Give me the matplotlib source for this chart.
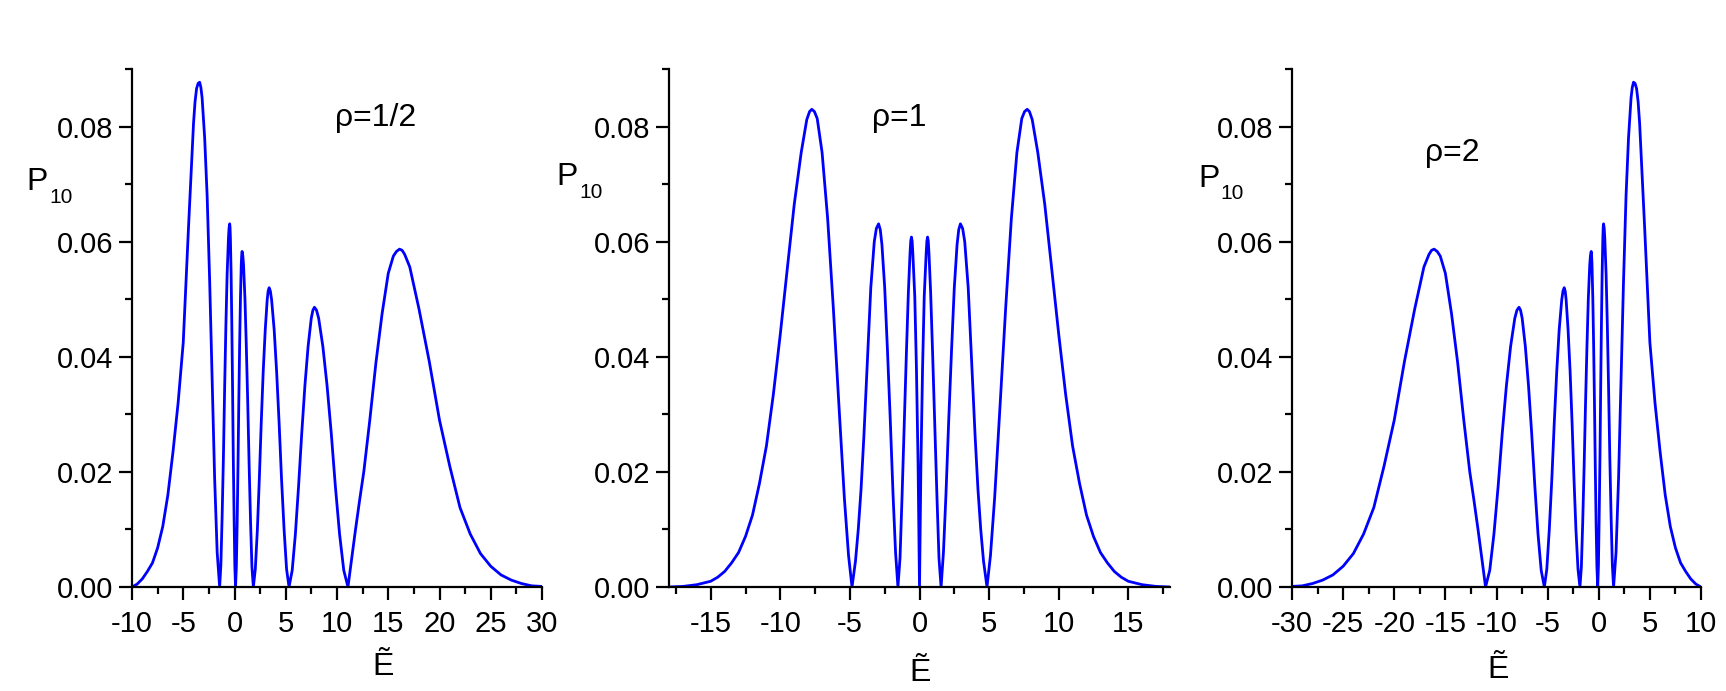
import matplotlib
matplotlib.use('Agg')
import matplotlib.pyplot as plt
from matplotlib.ticker import MultipleLocator, FormatStrFormatter

plt.rcParams['font.family'] = ['Liberation Sans', 'DejaVu Sans']
plt.rcParams['axes.unicode_minus'] = False

# rho = 1/2  (one line per lobe)
half_x = [-10, -9.5, -9, -8.5, -8, -7.5, -7, -6.5, -6, -5.5, -5, -4.5, -4, -3.85, -3.7, -3.55, -3.4,
          -3.28, -3.16, -2.91, -2.67, -2.42, -2.18, -1.94, -1.69, -1.45,
          -1.33, -1.21, -1.08, -0.96, -0.84, -0.72, -0.59, -0.53, -0.47, -0.435, -0.40, -0.33, -0.26, -0.19, -0.12, -0.04, 0.03, 0.1,
          0.18, 0.26, 0.34, 0.42, 0.5, 0.58, 0.66, 0.70, 0.74, 0.81, 0.88, 1.02, 1.15, 1.29, 1.43, 1.57, 1.70, 1.84,
          2.03, 2.23, 2.42, 2.61, 2.80, 3.00, 3.19, 3.28, 3.38, 3.5, 3.62, 3.87, 4.11, 4.35, 4.59, 4.84, 5.08, 5.32,
          5.63, 5.94, 6.25, 6.56, 6.87, 7.18, 7.49, 7.65, 7.8, 8.0, 8.21, 8.62, 9.03, 9.44, 9.84, 10.25, 10.66, 11.07,
          11.4, 11.8, 12.2, 12.62, 13.2, 13.8, 14.4, 15.0, 15.5, 15.8, 16.1, 16.35, 16.6, 17.1, 18.0, 19.0, 20.0, 21.0,
          22.0, 23.0, 24.0, 25.0, 26.0, 27.0, 28.0, 29.0, 30.0]
half_y = [0.0, 0.0005, 0.0014, 0.0027, 0.0042, 0.0068, 0.0105, 0.016, 0.0235, 0.032, 0.0425, 0.062, 0.0805, 0.0843, 0.0866, 0.0875, 0.0877,
          0.0868, 0.085, 0.078, 0.068, 0.053, 0.036, 0.019, 0.006, 0.0,
          0.0038, 0.012, 0.0227, 0.0347, 0.0454, 0.0543, 0.0606, 0.0624, 0.0631, 0.0625, 0.0606, 0.0543, 0.0454, 0.0347, 0.0227, 0.012, 0.0038, 0.0,
          0.0035, 0.0111, 0.021, 0.0321, 0.042, 0.0501, 0.056, 0.0576, 0.0583, 0.0576, 0.056, 0.0501, 0.042, 0.0321, 0.021, 0.0111, 0.0035, 0.0,
          0.0031, 0.0099, 0.0187, 0.0286, 0.0374, 0.0447, 0.0499, 0.0514, 0.052, 0.0514, 0.0499, 0.0447, 0.0374, 0.0286, 0.0187, 0.0099, 0.0031, 0.0,
          0.0029, 0.0092, 0.0175, 0.0267, 0.035, 0.0418, 0.0467, 0.0481, 0.0486, 0.0481, 0.0467, 0.0418, 0.035, 0.0267, 0.0175, 0.0092, 0.0029, 0.0,
          0.0045, 0.0099, 0.015, 0.0201, 0.029, 0.039, 0.0475, 0.0545, 0.0575, 0.0583, 0.0587, 0.0585, 0.0578, 0.0556, 0.0483, 0.0392, 0.029, 0.021,
          0.0138, 0.0092, 0.0058, 0.0036, 0.0021, 0.0012, 0.0006, 0.0002, 0.0001]

# rho = 1
one_x = [-18, -17, -16, -15, -14.5, -14, -13.5, -13, -12.5, -12, -11.5, -11, -10.5, -10, -9.5, -9, -8.5, -8.1, -7.9, -7.74,
         -7.55, -7.35, -7.0, -6.6, -6.2, -5.8, -5.4, -5.1, -4.85,
         -4.6, -4.4, -4.2, -4.0, -3.75, -3.5, -3.25, -3.1, -2.94, -2.82, -2.7, -2.5, -2.3, -2.1, -1.9, -1.72, -1.55,
         -1.4, -1.25, -1.1, -0.95, -0.8, -0.68, -0.63, -0.58, -0.53, -0.48, -0.34, -0.22, -0.1, 0.0,
         0.1, 0.22, 0.34, 0.48, 0.53, 0.58, 0.63, 0.68, 0.8, 0.95, 1.1, 1.25, 1.4, 1.55,
         1.72, 1.9, 2.1, 2.3, 2.5, 2.7, 2.82, 2.94, 3.1, 3.25, 3.5, 3.75, 4.0, 4.2, 4.4, 4.6, 4.85,
         5.1, 5.4, 5.8, 6.2, 6.6, 7.0, 7.35, 7.55, 7.74, 7.9, 8.1, 8.5, 9.0, 9.5, 10.0, 10.5, 11.0, 11.5, 12.0,
         12.5, 13.0, 13.5, 14.0, 14.5, 15.0, 16.0, 17.0, 18.0]
one_y = [0.0, 0.0001, 0.0004, 0.001, 0.0017, 0.0027, 0.0042, 0.006, 0.0088, 0.0125, 0.018, 0.0245, 0.0335, 0.044, 0.0553, 0.0665, 0.0755, 0.0812, 0.0826, 0.083,
         0.0826, 0.0814, 0.0755, 0.064, 0.0488, 0.032, 0.0155, 0.0055, 0.0,
         0.0045, 0.01, 0.017, 0.026, 0.039, 0.052, 0.06, 0.0623, 0.0631, 0.0621, 0.0595, 0.052, 0.041, 0.029, 0.016, 0.006, 0.0,
         0.005, 0.016, 0.028, 0.04, 0.0512, 0.058, 0.0601, 0.0608, 0.0601, 0.058, 0.0505, 0.038, 0.021, 0.0,
         0.021, 0.038, 0.0505, 0.058, 0.0601, 0.0608, 0.0601, 0.058, 0.0512, 0.04, 0.028, 0.016, 0.005, 0.0,
         0.006, 0.016, 0.029, 0.041, 0.052, 0.0595, 0.0621, 0.0631, 0.0623, 0.06, 0.052, 0.039, 0.026, 0.017, 0.01, 0.0045, 0.0,
         0.0055, 0.0155, 0.032, 0.0488, 0.064, 0.0755, 0.0814, 0.0826, 0.083, 0.0826, 0.0812, 0.0755, 0.0665, 0.0553, 0.044, 0.0335, 0.0245, 0.018, 0.0125,
         0.0088, 0.006, 0.0042, 0.0027, 0.0017, 0.001, 0.0004, 0.0001, 0.0]

# rho = 2
two_x = [-30, -29, -28, -27, -26, -25, -24, -23, -22, -21, -20, -19, -18, -17.1, -16.6, -16.35, -16.1, -15.8, -15.5, -15, -14.4,
         -13.8, -13.2, -12.62, -12.2, -11.8, -11.4, -11.07,
         -10.66, -10.25, -9.84, -9.44, -9.03, -8.62, -8.21, -8.0, -7.8, -7.65, -7.49, -7.18, -6.87, -6.56, -6.25, -5.94, -5.63, -5.32,
         -5.08, -4.84, -4.59, -4.35, -4.11, -3.87, -3.62, -3.5, -3.38, -3.28, -3.19, -3.0, -2.8, -2.61, -2.42, -2.23, -2.03, -1.84,
         -1.70, -1.57, -1.43, -1.29, -1.15, -1.02, -0.88, -0.81, -0.74, -0.70, -0.66, -0.58, -0.5, -0.42, -0.34, -0.26, -0.18, -0.1,
         -0.03, 0.04, 0.12, 0.19, 0.26, 0.33, 0.40, 0.435, 0.47, 0.53, 0.59, 0.72, 0.84, 0.96, 1.08, 1.21, 1.33, 1.45,
         1.69, 1.94, 2.18, 2.42, 2.67, 2.91, 3.16, 3.28, 3.4, 3.55, 3.7, 3.85, 4, 4.5, 5, 5.5, 6, 6.5, 7, 7.5, 8, 8.5, 9, 9.5, 10]
two_y = [0.0001, 0.0002, 0.0006, 0.0012, 0.0021, 0.0036, 0.0058, 0.0092, 0.0138, 0.021, 0.029, 0.0392, 0.0483, 0.0556, 0.0578, 0.0585, 0.0587, 0.0583, 0.0575, 0.0545, 0.0475,
         0.039, 0.029, 0.0201, 0.015, 0.0099, 0.0045, 0.0,
         0.0029, 0.0092, 0.0175, 0.0267, 0.035, 0.0418, 0.0467, 0.0481, 0.0486, 0.0481, 0.0467, 0.0418, 0.035, 0.0267, 0.0175, 0.0092, 0.0029, 0.0,
         0.0031, 0.0099, 0.0187, 0.0286, 0.0374, 0.0447, 0.0499, 0.0514, 0.052, 0.0514, 0.0499, 0.0447, 0.0374, 0.0286, 0.0187, 0.0099, 0.0031, 0.0,
         0.0035, 0.0111, 0.021, 0.0321, 0.042, 0.0501, 0.056, 0.0576, 0.0583, 0.0576, 0.056, 0.0501, 0.042, 0.0321, 0.021, 0.0111, 0.0035, 0.0,
         0.0038, 0.012, 0.0227, 0.0347, 0.0454, 0.0543, 0.0606, 0.0625, 0.0631, 0.0624, 0.0606, 0.0543, 0.0454, 0.0347, 0.0227, 0.012, 0.0038, 0.0,
         0.006, 0.019, 0.036, 0.053, 0.068, 0.078, 0.085, 0.0868, 0.0877, 0.0875, 0.0866, 0.0843, 0.0805, 0.062, 0.0425, 0.032, 0.0235, 0.016, 0.0105, 0.0068, 0.0042, 0.0027, 0.0014, 0.0005, 0.0]

labels = ['ρ=1/2', 'ρ=1', 'ρ=2']
xlims = [(-10, 30), (-18, 18), (-30, 10)]

W, H = 1726, 691
fig = plt.figure(figsize=(W / 100, H / 100), dpi=100)

# pixel layout of each panel: axes left/right, label spots
panels = [
    dict(x=half_x, y=half_y, left=132, right=542, rho=(9.76, 0.0801), p=(26, 190), sub=(49, 203), e=(383, 675)),
    dict(x=one_x, y=one_y, left=669, right=1170, rho=(-3.4, 0.0801), p=(556, 185), sub=(579, 198), e=(920, 681)),
    dict(x=two_x, y=two_y, left=1292, right=1701, rho=(-17.0, 0.0740), p=(1198, 187), sub=(1220, 199), e=(1498, 678)),
]
top, bottom = 69, 587

for i, pnl in enumerate(panels):
    ax = fig.add_axes([pnl['left'] / W, 1 - bottom / H, (pnl['right'] - pnl['left']) / W, (bottom - top) / H])
    ax.plot(pnl['x'], pnl['y'], color='#0000ff', lw=2.0)
    ax.set_xlim(*xlims[i])
    ax.set_ylim(0, 0.09)
    ax.spines['top'].set_visible(False)
    ax.spines['right'].set_visible(False)
    for s in ['left', 'bottom']:
        ax.spines[s].set_linewidth(1.6)
    ax.xaxis.set_major_locator(MultipleLocator(5))
    ax.xaxis.set_minor_locator(MultipleLocator(2.5))
    ax.yaxis.set_major_locator(MultipleLocator(0.02))
    ax.yaxis.set_minor_locator(MultipleLocator(0.01))
    ax.xaxis.set_major_formatter(FormatStrFormatter('%d'))
    ax.yaxis.set_major_formatter(FormatStrFormatter('%.2f'))
    ax.tick_params(which='major', length=9.5, width=1.6, labelsize=21, direction='out')
    ax.tick_params(which='minor', length=5, width=1.6, direction='out')
    ax.tick_params(axis='x', pad=7)
    ax.tick_params(axis='y', pad=4)
    ax.text(pnl['rho'][0], pnl['rho'][1], labels[i], fontsize=23, ha='left', va='baseline')

    fig.text(pnl['p'][0] / W, 1 - pnl['p'][1] / H, 'P', fontsize=23, ha='left', va='baseline')
    fig.text(pnl['sub'][0] / W, 1 - pnl['sub'][1] / H, '10', fontsize=15, ha='left', va='baseline')
    fig.text(pnl['e'][0] / W, 1 - pnl['e'][1] / H, 'Ẽ', fontsize=23, ha='center', va='baseline')

fig.savefig('out.png', dpi=100)
